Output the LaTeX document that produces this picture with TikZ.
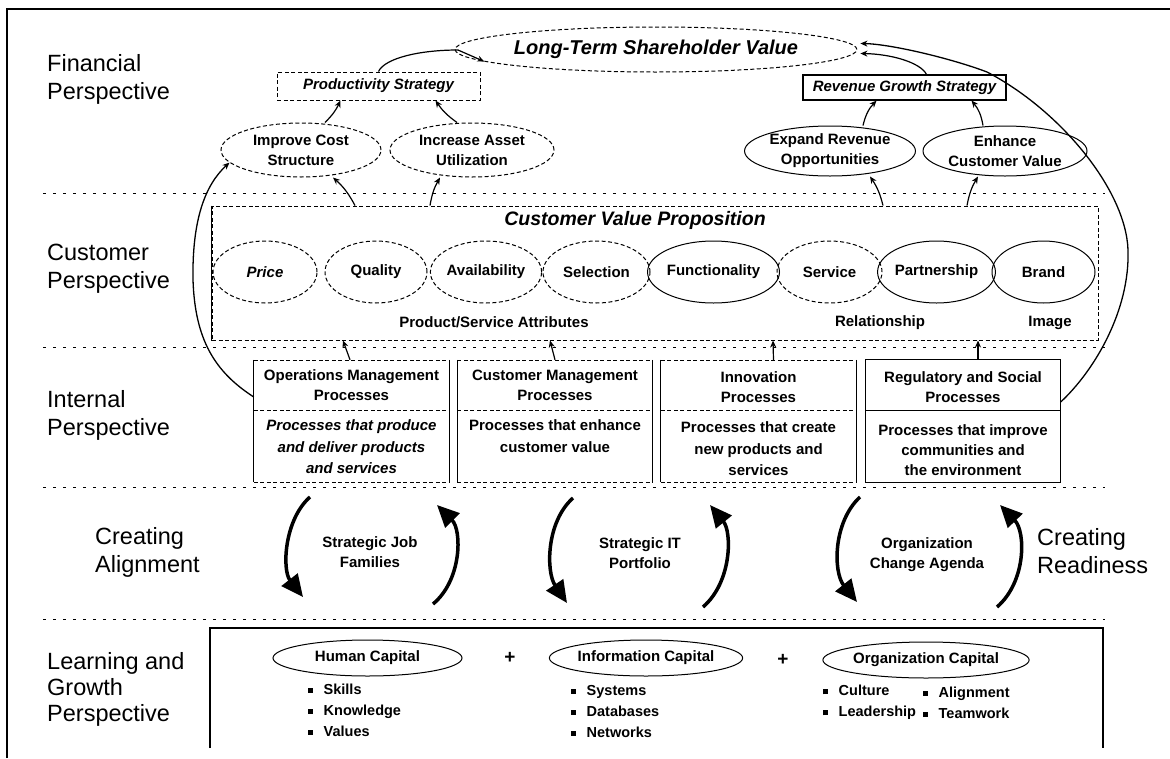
\documentclass[tikz,border=0pt]{standalone}
\usepackage{fontspec}
\setmainfont{Liberation Sans}
\usetikzlibrary{shapes.geometric,arrows.meta}
\newcommand\sqbul{\rule[1.5pt]{5pt}{5pt}\hspace{11pt}}
\begin{document}
\begin{tikzpicture}[x=1pt,y=-1pt,
  persp/.style={font=\fontsize{23.5}{28}\selectfont, align=left, anchor=west, inner sep=0},
  lab/.style={font=\bfseries\fontsize{15}{20}\selectfont, align=center, inner sep=0},
  ttl/.style={font=\bfseries\itshape\fontsize{15}{18}\selectfont},
  oval/.style={ellipse, draw, line width=1pt, inner sep=0, font=\bfseries\fontsize{15}{20}\selectfont, align=center},
  dsh/.style={dash pattern=on 4pt off 2.5pt},
  sep/.style={line width=1pt, dash pattern=on 3pt off 7pt},
  arr/.style={line width=1.2pt, -{Stealth[length=7pt,width=6pt]}},
  bigarr/.style={line width=3.5pt, -{Triangle[length=22pt,width=20pt]}},
  procbox/.style={rectangle, minimum width=195pt, minimum height=122pt, inner sep=0},
  blist/.style={font=\bfseries\fontsize{14.5}{21}\selectfont, align=left, anchor=west, inner sep=0}
]
\fill[white] (0,0) rectangle (1170,758);
\useasboundingbox (0,0) rectangle (1170,758);

% page frame (top and left)
\draw[line width=2pt] (7,758) -- (7,9) -- (1170,9);

% perspective separators
\foreach \yy in {193,347,487,619} \draw[sep] (43,\yy) -- (1105,\yy);

% perspective labels
\node[persp] (lfin) at (47,79) {Financial\\Perspective};
\node[persp] (lcus) at (47,269) {Customer\\Perspective};
\node[persp] (lint) at (47,415) {Internal\\Perspective};
\node[persp] (lali) at (95,552) {Creating\\Alignment};
\node[persp, font=\fontsize{23.5}{26}\selectfont] (llg) at (47,689) {Learning and\\Growth\\Perspective};
\node[persp] (lrea) at (1037,551) {Creating\\Readiness};

% ---------------- financial perspective ----------------
\node[oval, dsh, minimum width=387pt, minimum height=45pt,
      font=\bfseries\itshape\fontsize{20}{24}\selectfont] (ltsv) at (656,49.5) {Long-Term Shareholder Value};
\node[draw, dsh, line width=1pt, minimum width=203pt, minimum height=28pt, inner sep=0, ttl] (prod) at (378.5,86) {Productivity Strategy};
\node[draw, line width=1.2pt, minimum width=203pt, minimum height=25pt, inner sep=0, ttl] (rev) at (904.5,87.5) {Revenue Growth Strategy};

\node[oval, dsh, minimum width=160pt, minimum height=54pt] (impcost) at (301,150) {Improve Cost\\Structure};
\node[oval, dsh, minimum width=164pt, minimum height=54pt] (incasset) at (472,150) {Increase Asset\\Utilization};
\node[oval, minimum width=160pt, minimum height=50pt] (expand) at (830,151) {Expand Revenue\\Opportunities};
\node[oval, minimum width=164pt, minimum height=50pt] (enhance) at (1005,151) {Enhance\\Customer Value};

\coordinate (pj) at (458,50);
\draw[line width=1.2pt] (prod.north) .. controls (385,58) and (420,50) .. (pj);
\draw[arr] (pj) -- (ltsv.184);
\draw[arr] ([xshift=22pt]rev.north) .. controls (920,62) and (890,54) .. ([shift={(3pt,-4pt)}]ltsv.east);

\draw[arr] ([xshift=24pt]impcost.north) to[bend right=10] ([xshift=-38pt]prod.south);
\draw[arr] ([xshift=-15pt]incasset.north) to[bend left=10] ([xshift=57pt]prod.south);
\draw[arr] ([xshift=33pt]expand.north) to[bend left=15] ([xshift=-28pt]rev.south);
\draw[arr] ([xshift=-22pt]enhance.north) to[bend right=15] ([xshift=67pt]rev.south);

% ---------------- customer perspective ----------------
\node[draw, dsh, line width=1pt, minimum width=886pt, minimum height=134pt, inner sep=0] (custbox) at (655,273) {};
\draw[line width=1.5pt] (custbox.north west) -- (custbox.south west);
\node[inner sep=0, font=\bfseries\itshape\fontsize{19.5}{23}\selectfont] (cvp) at (635,220) {Customer Value Proposition};

\node[oval, dsh, minimum width=104pt, minimum height=62pt, font=\bfseries\itshape\fontsize{15}{20}\selectfont] (price) at (265,272) {Price};
\node[oval, dsh, minimum width=102pt, minimum height=62pt] (quality) at (376,272) {Quality};
\node[oval, dsh, minimum width=102pt, minimum height=62pt] (avail) at (486,272) {Availability};
\node[oval, dsh, minimum width=107pt, minimum height=62pt] (select) at (596.5,272) {Selection};
\node[oval, minimum width=113pt, minimum height=62pt] (func) at (713.5,272) {Functionality};
\node[oval, dsh, minimum width=105pt, minimum height=62pt] (service) at (829.5,272) {Service};
\node[oval, minimum width=103pt, minimum height=62pt] (partner) at (936.5,272) {Partnership};
\node[oval, minimum width=103pt, minimum height=62pt] (brand) at (1043.5,272) {Brand};

\node[lab] (attr) at (494,322) {Product/Service Attributes};
\node[lab] (rel) at (880,323) {Relationship};
\node[lab] (img) at (1050,323) {Image};

\draw[arr] ([xshift=-300pt]custbox.north) to[bend right=10] ([xshift=32pt]impcost.south);
\draw[arr] ([xshift=-225pt]custbox.north) to[bend left=10] ([xshift=-32pt]incasset.south);
\draw[arr] ([xshift=228pt]custbox.north) to[bend right=10] ([xshift=40pt]expand.south);
\draw[arr] ([xshift=312pt]custbox.north) to[bend left=10] ([xshift=-27pt]enhance.south);

% ---------------- internal perspective ----------------
\node[procbox] (ops) at (351.5,421) {};
\node[procbox] (cmp) at (555,421) {};
\node[procbox] (inn) at (758.5,421) {};
\node[procbox] (reg) at (963,421) {};
\foreach \b in {ops,cmp,inn} {
  \draw[line width=1.3pt] (\b.north west) -- (\b.south west) (\b.north east) -- (\b.south east);
  \draw[line width=0.6pt, dsh] (\b.north west) -- (\b.north east) (\b.south west) -- (\b.south east);
  \draw[line width=0.8pt, dsh] ([yshift=11pt]\b.west) -- ([yshift=11pt]\b.east);
}
\draw[line width=1.3pt] (reg.north west) rectangle (reg.south east);
\draw[line width=1pt] ([yshift=11pt]reg.west) -- ([yshift=11pt]reg.east);

\node[lab] (opst) at (351.5,385) {Operations Management\\Processes};
\node[lab, font=\bfseries\itshape\fontsize{15}{21.5}\selectfont] (opsd) at (351.5,447) {Processes that produce\\and deliver products\\and services};
\node[lab] (cmpt) at (555,385) {Customer Management\\Processes};
\node[lab, font=\bfseries\fontsize{15}{21.5}\selectfont] (cmpd) at (555,436) {Processes that enhance\\customer value};
\node[lab] (innt) at (758.5,387) {Innovation\\Processes};
\node[lab, font=\bfseries\fontsize{15}{21.5}\selectfont] (innd) at (758.5,449) {Processes that create\\new products and\\services};
\node[lab] (regt) at (963,387) {Regulatory and Social\\Processes};
\node[lab, font=\bfseries\fontsize{15}{20}\selectfont] (regd) at (963,450) {Processes that improve\\communities and\\the environment};

\draw[arr] ([xshift=-1.5pt]ops.north) -- ([xshift=-312pt]custbox.south);
\draw[arr] (cmp.north) -- ([xshift=-105pt]custbox.south);
\draw[arr] ([xshift=15pt]inn.north) -- ([xshift=118pt]custbox.south);
\draw[arr] ([xshift=15pt]reg.north) -- ([xshift=323pt]custbox.south);

% outer loops from the process groups to the financial objectives
\draw[arr, line width=1.3pt] ([yshift=24pt]ops.west) .. controls (215,372) and (195,340) .. (193,280)
   .. controls (192,220) and (205,185) .. (impcost.190);
\draw[arr, line width=1.3pt] ([yshift=19pt]reg.east) .. controls (1095,370) and (1130,310) .. (1128,250)
   .. controls (1126,190) and (1060,110) .. (987,72)
   .. controls (950,58) and (890,44) .. ([shift={(3pt,6pt)}]ltsv.east);

% ---------------- alignment / readiness ----------------
\coordinate (a1s) at (310,497); \coordinate (a1e) at (303,597);
\coordinate (a2s) at (433,604); \coordinate (a2e) at (437,505);
\coordinate (a3s) at (573,498); \coordinate (a3e) at (567,603);
\coordinate (a4s) at (703,607); \coordinate (a4e) at (710,505);
\coordinate (a5s) at (860,497); \coordinate (a5e) at (857,602);
\coordinate (a6s) at (997,607); \coordinate (a6e) at (1000,505);
\draw[bigarr] (a1s) .. controls (284,520) and (282,570) .. (a1e);
\draw[bigarr] (a2s) .. controls (462,580) and (462,530) .. (a2e);
\draw[bigarr] (a3s) .. controls (546,522) and (546,572) .. (a3e);
\draw[bigarr] (a4s) .. controls (732,582) and (732,532) .. (a4e);
\draw[bigarr] (a5s) .. controls (833,522) and (833,572) .. (a5e);
\draw[bigarr] (a6s) .. controls (1026,582) and (1026,532) .. (a6e);

\node[lab] (sjf) at (370,552) {Strategic Job\\Families};
\node[lab] (sit) at (640,553) {Strategic IT\\Portfolio};
\node[lab] (oca) at (927,555) {Organization\\Change Agenda};

% ---------------- learning and growth ----------------
\node[rectangle, minimum width=893pt, minimum height=120pt, inner sep=0] (lgbox) at (656.5,688) {};
\draw[line width=1.5pt] (lgbox.south west) -- (lgbox.north west) -- (lgbox.north east) -- (lgbox.south east);

\node[oval, minimum width=189pt, minimum height=36pt] (human) at (367.5,658) {Human Capital};
\node[oval, minimum width=188pt, minimum height=36pt] (info) at (646,658) {Information Capital};
\node[oval, minimum width=188pt, minimum height=36pt] (orgc) at (926,660) {Organization Capital};
\node[lab, font=\bfseries\fontsize{19}{20}\selectfont] (plus1) at (510,658) {+};
\node[lab, font=\bfseries\fontsize{19}{20}\selectfont] (plus2) at (783,660) {+};

\node[blist] (hlist) at (307.5,710) {\sqbul Skills\\\sqbul Knowledge\\\sqbul Values};
\node[blist] (ilist) at (570.5,711) {\sqbul Systems\\\sqbul Databases\\\sqbul Networks};
\node[blist] (olist1) at (822.5,702.5) {\sqbul Culture\\\sqbul Leadership};
\node[blist] (olist2) at (922.5,702.5) {\sqbul Alignment\\\sqbul Teamwork};
\end{tikzpicture}
\end{document}
